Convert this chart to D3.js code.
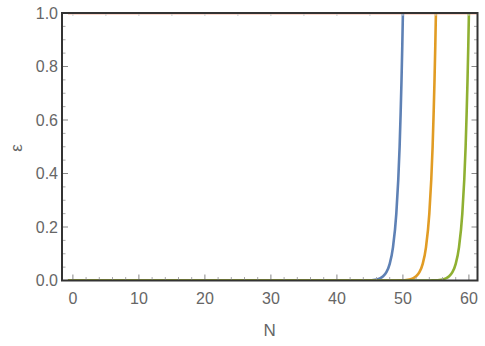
<!DOCTYPE html>
<html lang="en">
<head>
    <meta charset="UTF-8">
    <title>epsilon vs N</title>
    <script src="https://d3js.org/d3.v7.min.js"></script>
    <style>
        body { margin: 0; background: #fff; }
        text { font-family: "Liberation Sans", Arial, sans-serif; fill: #666; }
        .tick-label { font-size: 16px; }
        .axis-title { font-size: 17px; }
    </style>
</head>
<body>
<script>
    // values
    const nBlue   = [-0.75, 0, 10, 20, 30, 40, 44, 44.5, 45, 45.5, 46, 46.5, 47, 47.5, 48, 48.5, 49, 49.5, 50, 50.25];
    const epsBlue = [0, 0, 0, 0, 0, 0, 0.0002, 0.0005, 0.001, 0.002, 0.004, 0.008, 0.016, 0.031, 0.062, 0.125, 0.25, 0.5, 1.0, 1.41];

    const nOrange   = [-0.75, 0, 10, 20, 30, 40, 49, 49.5, 50, 50.5, 51, 51.5, 52, 52.5, 53, 53.5, 54, 54.5, 55, 55.25];
    const epsOrange = [0, 0, 0, 0, 0, 0, 0.0002, 0.0005, 0.001, 0.002, 0.004, 0.008, 0.016, 0.031, 0.062, 0.125, 0.25, 0.5, 1.0, 1.41];

    const nGreen   = [-0.75, 0, 10, 20, 30, 40, 50, 54, 54.5, 55, 55.5, 56, 56.5, 57, 57.5, 58, 58.5, 59, 59.5, 60, 60.25];
    const epsGreen = [0, 0, 0, 0, 0, 0, 0, 0.0002, 0.0005, 0.001, 0.002, 0.004, 0.008, 0.016, 0.031, 0.062, 0.125, 0.25, 0.5, 1.0, 1.41];

    const nRed   = [-0.75, 61.3];
    const epsRed = [1.0, 1.0];

    const xTicks = [0, 10, 20, 30, 40, 50, 60];
    const yTicks = [0.0, 0.2, 0.4, 0.6, 0.8, 1.0];

    const width = 485, height = 346;
    const plotL = 62, plotR = 477.5, plotT = 13, plotB = 280.5;

    const x = d3.scaleLinear().domain([-1.65, 61.3]).range([plotL, plotR]);
    const y = d3.scaleLinear().domain([0, 1]).range([plotB, plotT]);

    const svg = d3.select("body").append("svg")
        .attr("width", width).attr("height", height);

    svg.append("clipPath").attr("id", "plot")
        .append("rect")
        .attr("x", plotL).attr("y", plotT)
        .attr("width", plotR - plotL).attr("height", plotB - plotT);

    const line = d3.line()
        .x(d => x(d[0])).y(d => y(d[1]))
        .curve(d3.curveMonotoneX);

    const series = [
        {n: nRed, eps: epsRed, color: "#EB6235"},
        {n: nBlue, eps: epsBlue, color: "#5E81B5"},
        {n: nOrange, eps: epsOrange, color: "#E19C24"},
        {n: nGreen, eps: epsGreen, color: "#8FB032"}
    ];

    const g = svg.append("g").attr("clip-path", "url(#plot)");
    series.forEach(s => {
        g.append("path")
            .datum(s.n.map((v, i) => [v, s.eps[i]]))
            .attr("d", line)
            .attr("fill", "none")
            .attr("stroke", s.color)
            .attr("stroke-width", 2.6);
    });

    // ticks, inside the frame
    const minorX = d3.range(0, 62, 2);
    const topX = d3.range(0, 62, 5);
    const minorY = d3.range(0, 1.001, 0.05);

    const ticks = svg.append("g").attr("stroke-width", 1);
    minorX.forEach(v => {
        const major = xTicks.includes(v);
        ticks.append("line")
            .attr("x1", x(v)).attr("x2", x(v))
            .attr("y1", plotB).attr("y2", plotB - (major ? 6 : 3.5))
            .attr("stroke", major ? "#888" : "#aaa");
    });
    topX.forEach(v => {
        ticks.append("line")
            .attr("x1", x(v)).attr("x2", x(v))
            .attr("y1", plotT).attr("y2", plotT + 3)
            .attr("stroke", "#ccc");
    });
    minorY.forEach(v => {
        const major = Math.abs(v * 5 - Math.round(v * 5)) < 1e-6;
        [[plotL, 1], [plotR, -1]].forEach(([x0, dir]) => {
            ticks.append("line")
                .attr("x1", x0).attr("x2", x0 + dir * (major ? 6 : 3.5))
                .attr("y1", y(v)).attr("y2", y(v))
                .attr("stroke", major ? "#888" : "#aaa");
        });
    });

    // frame
    svg.append("rect")
        .attr("x", plotL).attr("y", plotT)
        .attr("width", plotR - plotL).attr("height", plotB - plotT)
        .attr("fill", "none")
        .attr("stroke", "#333")
        .attr("stroke-width", 2);

    // tick labels
    svg.selectAll(".xl").data(xTicks).enter().append("text")
        .attr("class", "tick-label")
        .attr("x", d => x(d)).attr("y", 304)
        .attr("text-anchor", "middle")
        .text(d => d);

    svg.selectAll(".yl").data(yTicks).enter().append("text")
        .attr("class", "tick-label")
        .attr("x", 58).attr("y", d => y(d) + 5.8)
        .attr("text-anchor", "end")
        .text(d => d.toFixed(1));

    svg.append("text").attr("class", "axis-title")
        .attr("x", (plotL + plotR) / 2).attr("y", 335.5)
        .attr("text-anchor", "middle")
        .text("N");

    svg.append("text").attr("class", "axis-title")
        .attr("transform", "translate(22,148) rotate(-90)")
        .attr("text-anchor", "middle")
        .text("ε");
</script>
</body>
</html>
